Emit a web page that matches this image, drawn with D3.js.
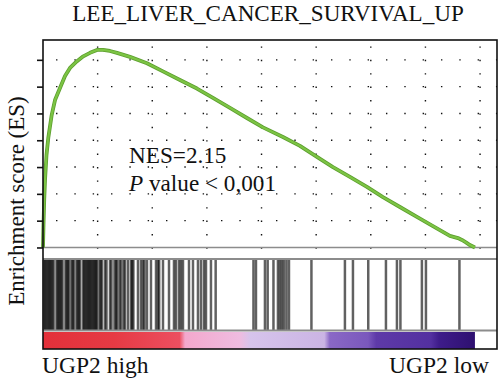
<!DOCTYPE html>
<html>
<head>
<meta charset="utf-8">
<script src="https://cdn.jsdelivr.net/npm/d3@7"></script>
<style>
  body { margin: 0; background: #fff; }
</style>
</head>
<body>
<svg id="chart" width="500" height="382"></svg>
<script>
// running enrichment score (gene rank, ES)
var esRanks = [0, 9, 22, 37, 64, 97, 159, 220, 311, 403, 494, 617, 737, 860, 988, 1098, 1226, 1354, 1592, 1903,
    2196, 2507, 2818, 3111, 3422, 3733, 4026, 4392, 4703, 5014, 5307, 5618, 5929, 6222, 6533, 6844, 7137, 7448,
    7595, 7668, 7741, 7814, 7906];
var esValues = [0, 0.084, 0.177, 0.252, 0.345, 0.409, 0.494, 0.550, 0.595, 0.640, 0.670, 0.694, 0.713, 0.726,
    0.737, 0.737, 0.733, 0.726, 0.711, 0.687, 0.657, 0.625, 0.593, 0.558, 0.521, 0.483, 0.448, 0.412, 0.379,
    0.338, 0.300, 0.263, 0.226, 0.188, 0.151, 0.114, 0.080, 0.043, 0.035, 0.028, 0.019, 0.009, 0];

// positions of gene set members in the ranked list
var hitRanks = [0, 22, 44, 66, 88, 110, 132, 154, 176, 229, 251, 273, 295, 317, 339, 393, 415, 437, 458,
    503, 525, 547, 595, 617, 639, 661, 714, 736, 758, 780, 802, 824, 845, 867, 889, 911, 933, 955, 970,
    1016, 1038, 1061, 1116, 1144, 1208, 1235, 1290, 1318, 1336, 1382, 1409, 1455, 1482, 1537, 1592, 1614,
    1636, 1720, 1775, 1812, 1839, 1885, 1958, 2050, 2086, 2108, 2178, 2288, 2379, 2416, 2471, 2507, 2544,
    2654, 2727, 2818, 2873, 2928, 2965, 3056, 3142, 3834, 3880, 4044, 4094, 4200, 4282, 4319, 4355, 4392,
    4438, 4484, 4895, 5508, 5655, 5935, 6259, 6460, 6524, 6917, 6991, 7604];

// ranked list metric colour bar
var stripRanks = [0, 1300, 2500, 2600, 3600, 3800, 5150, 5250, 5950, 6100, 7100, 7250, 7906];
var stripColors = ["#e3303a", "#e63a44", "#ec4f60", "#f3a8cd", "#efbce0", "#d6c4ec", "#cbb4e4", "#8a68c6",
    "#7a58bc", "#5e3aa8", "#5330a0", "#3e1c8a", "#2e1070"];

var esTicks = [0, 0.1, 0.2, 0.3, 0.4, 0.5, 0.6, 0.7];
var rankTicks = [1000, 2000, 3000, 4000, 5000, 6000, 7000, 8000];
var listSize = 8310;
var lastRank = 7906;

var titleText = "LEE_LIVER_CANCER_SURVIVAL_UP";
var yLabel = "Enrichment score (ES)";
var leftLabel = "UGP2 high";
var rightLabel = "UGP2 low";

var serif = "'Liberation Serif', 'DejaVu Serif', 'Times New Roman', Times, serif";

function drawChart() {
    var svg = d3.select("#chart");
    var plotLeft = 43, plotRight = 497, plotTop = 40, esBottom = 259, barBottom = 330.5, cbTop = 332, cbBottom = 349;

    var x = d3.scaleLinear().domain([0, listSize]).range([plotLeft, plotRight]);
    var y = d3.scaleLinear().domain([-0.043, 0.774]).range([esBottom, plotTop]);

    // dotted grid
    var grid = svg.append("g");
    grid.selectAll("line.h")
        .data(esTicks.slice(1))
        .enter().append("line")
        .attr("class", "h")
        .attr("x1", plotLeft).attr("x2", plotRight)
        .attr("y1", function(d) { return y(d); })
        .attr("y2", function(d) { return y(d); })
        .attr("stroke", "#111")
        .attr("stroke-width", 1.4)
        .attr("stroke-dasharray", "1.4 16.93")
        .attr("stroke-dashoffset", 5.3);
    grid.selectAll("line.v")
        .data(rankTicks)
        .enter().append("line")
        .attr("class", "v")
        .attr("x1", function(d) { return x(d); })
        .attr("x2", function(d) { return x(d); })
        .attr("y1", plotTop).attr("y2", esBottom)
        .attr("stroke", "#111")
        .attr("stroke-width", 1.4)
        .attr("stroke-dasharray", "1.4 12")
        .attr("stroke-dashoffset", 7);

    // zero line and panel separators
    svg.append("line")
        .attr("x1", plotLeft).attr("x2", plotRight)
        .attr("y1", y(0)).attr("y2", y(0))
        .attr("stroke", "#8c8c8c").attr("stroke-width", 1.6);
    svg.append("line")
        .attr("x1", plotLeft).attr("x2", plotRight)
        .attr("y1", esBottom).attr("y2", esBottom)
        .attr("stroke", "#8c8c8c").attr("stroke-width", 2);

    // barcode
    svg.append("g").selectAll("line")
        .data(hitRanks)
        .enter().append("line")
        .attr("x1", function(d) { return x(d) + 1; })
        .attr("x2", function(d) { return x(d) + 1; })
        .attr("y1", esBottom + 1).attr("y2", barBottom)
        .attr("stroke", "#000")
        .attr("stroke-opacity", 0.62)
        .attr("stroke-width", 2.5);

    svg.append("line")
        .attr("x1", plotLeft).attr("x2", plotRight)
        .attr("y1", barBottom).attr("y2", barBottom)
        .attr("stroke", "#8c8c8c").attr("stroke-width", 2);

    // colour bar
    var grad = svg.append("defs").append("linearGradient")
        .attr("id", "metric")
        .attr("gradientUnits", "userSpaceOnUse")
        .attr("x1", x(0)).attr("x2", x(lastRank))
        .attr("y1", 0).attr("y2", 0);
    grad.selectAll("stop")
        .data(stripRanks)
        .enter().append("stop")
        .attr("offset", function(d) { return d / lastRank; })
        .attr("stop-color", function(d, i) { return stripColors[i]; });
    svg.append("rect")
        .attr("x", x(0)).attr("y", cbTop)
        .attr("width", x(lastRank) - x(0))
        .attr("height", cbBottom - cbTop)
        .attr("fill", "url(#metric)");

    // running ES curve
    var line = d3.line()
        .x(function(d, i) { return x(esRanks[i]); })
        .y(function(d) { return y(d); });
    svg.append("path")
        .datum(esValues)
        .attr("fill", "none")
        .attr("stroke", "#5c9e2e")
        .attr("stroke-width", 3.8)
        .attr("stroke-linejoin", "round")
        .attr("d", line);
    svg.append("path")
        .datum(esValues)
        .attr("fill", "none")
        .attr("stroke", "#7cc444")
        .attr("stroke-width", 2.2)
        .attr("stroke-linejoin", "round")
        .attr("d", line);

    // frame and ticks
    svg.append("rect")
        .attr("x", plotLeft).attr("y", plotTop)
        .attr("width", plotRight - plotLeft).attr("height", cbBottom - plotTop)
        .attr("fill", "none")
        .attr("stroke", "#111").attr("stroke-width", 1.6);

    var yAxis = svg.append("g")
        .attr("transform", "translate(" + plotLeft + ",0)")
        .call(d3.axisLeft(y).tickValues(esTicks).tickSize(6).tickFormat(""));
    yAxis.select(".domain").remove();
    yAxis.selectAll(".tick line").attr("stroke", "#111").attr("stroke-width", 1.6);

    // texts
    function label(px, py, size) {
        return svg.append("text")
            .attr("x", px).attr("y", py)
            .attr("font-family", serif)
            .attr("font-size", size)
            .attr("fill", "#111");
    }

    label(268, 21, 23.1).attr("text-anchor", "middle").text(titleText);

    label(0, 0, 23)
        .attr("transform", "translate(24,201) rotate(-90)")
        .attr("text-anchor", "middle")
        .text(yLabel);

    label(129, 163, 23.2).text("NES=2.15");

    var pText = label(129, 191, 23.2);
    pText.append("tspan").attr("font-style", "italic").text("P");
    pText.append("tspan").text(" value < 0,001");

    label(42, 373, 23.5).text(leftLabel);
    label(489, 373, 23.5).attr("text-anchor", "end").text(rightLabel);
}

drawChart();
</script>
</body>
</html>
